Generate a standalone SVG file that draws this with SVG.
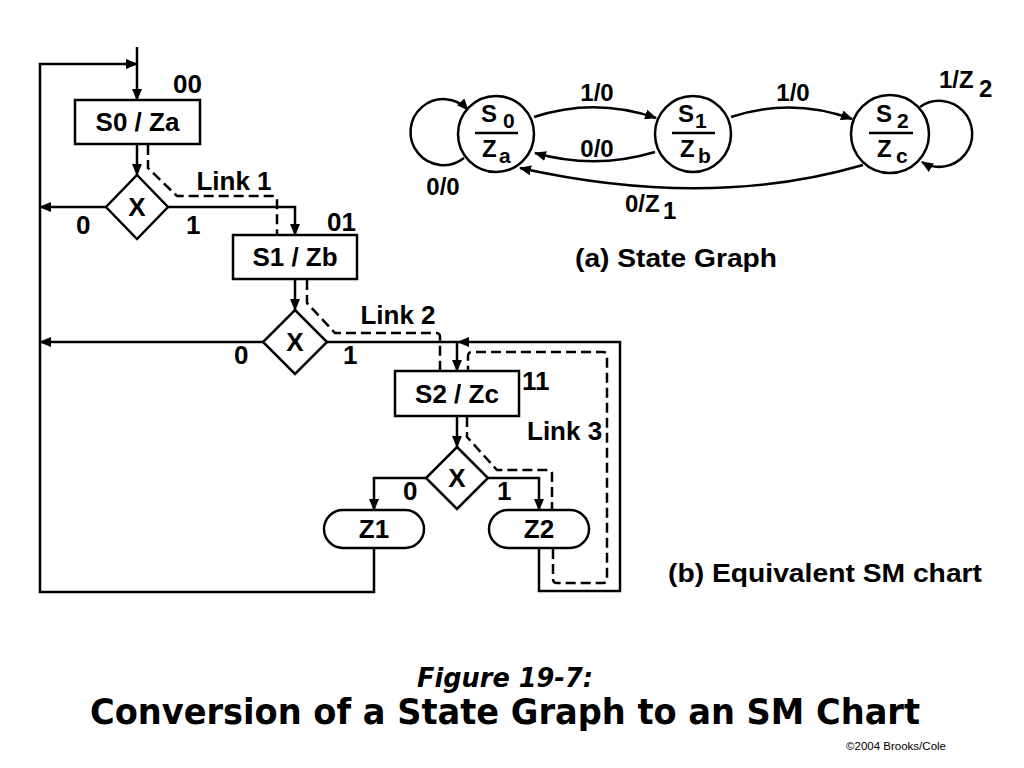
<svg xmlns="http://www.w3.org/2000/svg" width="1024" height="768" viewBox="0 0 1024 768">
<style>
.ln{fill:none;stroke:#000;stroke-width:2.5}
.ds{fill:none;stroke:#000;stroke-width:2.5;stroke-dasharray:10 5}
.bx{fill:#fff;stroke:#000;stroke-width:2.5}
.t{font-family:"Liberation Sans",Arial,sans-serif;font-weight:bold;font-size:26px;fill:#000}
.tc{text-anchor:middle}
.sg{font-family:"Liberation Sans",Arial,sans-serif;font-weight:bold;font-size:24px;fill:#000}
.st{font-family:"Liberation Sans",Arial,sans-serif;font-weight:bold;font-size:24px;fill:#000}
.ss{font-family:"Liberation Sans",Arial,sans-serif;font-weight:bold;font-size:21px;fill:#000}
</style>
<defs>
<marker id="ah" markerUnits="userSpaceOnUse" markerWidth="12" markerHeight="10" refX="11" refY="5" orient="auto">
<path d="M0,0 L12,5 L0,10 Z" fill="#000"/>
</marker>
</defs>
<rect width="1024" height="768" fill="#fff"/>

<g id="connectors">
<path class="ln" d="M137,47 V100" marker-end="url(#ah)"/>
<path class="ln" d="M374,548 V592 H40 V64 H137" marker-end="url(#ah)"/>
<path class="ln" d="M137,144 V175" marker-end="url(#ah)"/>
<path class="ln" d="M106,207 H40" marker-end="url(#ah)"/>
<path class="ln" d="M168,207 H295 V235" marker-end="url(#ah)"/>
<path class="ln" d="M295,279 V310" marker-end="url(#ah)"/>
<path class="ln" d="M263,342 H40" marker-end="url(#ah)"/>
<path class="ln" d="M327,342 H457 V371" marker-end="url(#ah)"/>
<path class="ln" d="M539,548 V591 H620 V342 H458" marker-end="url(#ah)"/>
<path class="ln" d="M457,416 V447" marker-end="url(#ah)"/>
<path class="ln" d="M426,478 H374 V510" marker-end="url(#ah)"/>
<path class="ln" d="M488,478 H539 V510" marker-end="url(#ah)"/>
<path class="ds" d="M148,145 V168 L177,196 H273 Q277,196 277,200 V235"/>
<path class="ds" d="M307,280 V303 L335,333 H436 Q440,333 440,337 V371"/>
<path class="ds" d="M467,417 V437 L497,470 H548 Q552,470 552,474 V510"/>
<path class="ds" d="M553,549 V579 Q553,583 557,583 H603 Q607,583 607,579 V356 Q607,352 603,352 H472 Q468,352 468,356 V371"/>
<path class="ln" d="M464,158 A33,33 0 1 1 468,110" marker-end="url(#ah)"/>
<path class="ln" d="M534,117 Q595,97 656,118" marker-end="url(#ah)"/>
<path class="ln" d="M655,152 Q595,170 535,153" marker-end="url(#ah)"/>
<path class="ln" d="M731,117 Q792,97 852,119" marker-end="url(#ah)"/>
<path class="ln" d="M863,165 Q709,210 520,168" marker-end="url(#ah)"/>
<path class="ln" d="M920,107 A33,33 0 1 1 922,162" marker-end="url(#ah)"/>
</g>

<g id="S0">
<rect class="bx" x="75" y="100" width="125" height="44"/>
<text class="t tc" x="137.5" y="131">S0 / Za</text>
<text class="t" x="173" y="93">00</text>
</g>
<g id="X1">
<path class="bx" d="M137,175 L168,207 L137,239 L106,207 Z"/>
<text class="t tc" x="137" y="216">X</text>
<text class="t" x="76" y="234">0</text>
<text class="t" x="186" y="234">1</text>
</g>
<g id="S1">
<rect class="bx" x="233" y="235" width="124" height="44"/>
<text class="t tc" x="295" y="266">S1 / Zb</text>
<text class="t" x="327" y="231">01</text>
<text class="t tc" x="234" y="190">Link 1</text>
</g>
<g id="X2">
<path class="bx" d="M295,310 L327,342 L295,374 L263,342 Z"/>
<text class="t tc" x="295" y="351">X</text>
<text class="t" x="234" y="364">0</text>
<text class="t" x="343" y="364">1</text>
</g>
<g id="S2">
<rect class="bx" x="395" y="371" width="124" height="45"/>
<text class="t tc" x="457" y="403">S2 / Zc</text>
<text class="t" x="522" y="390">11</text>
<text class="t tc" x="398" y="324">Link 2</text>
<text class="t" x="527" y="440">Link 3</text>
</g>
<g id="X3">
<path class="bx" d="M457,447 L488,478 L457,509 L426,478 Z"/>
<text class="t tc" x="457" y="487">X</text>
<text class="t" x="403" y="500">0</text>
<text class="t" x="497" y="500">1</text>
</g>
<g id="Z1">
<rect class="bx" x="324" y="510" width="100" height="38" rx="19" ry="19"/>
<text class="t tc" x="374" y="538">Z1</text>
</g>
<g id="Z2">
<rect class="bx" x="489" y="510" width="100" height="38" rx="19" ry="19"/>
<text class="t tc" x="539" y="538">Z2</text>
</g>

<g id="G_S0">
<circle class="bx" cx="496" cy="134" r="38"/>
<text class="st" x="481" y="122">S</text>
<text class="ss" x="503" y="128">0</text>
<line class="ln" x1="475" y1="133" x2="518" y2="133"/>
<text class="st" x="482" y="157">Z</text>
<text class="ss" x="499" y="163">a</text>
</g>
<g id="G_S1">
<circle class="bx" cx="693" cy="134" r="38"/>
<text class="st" x="678" y="122">S</text>
<text class="ss" x="695" y="128">1</text>
<line class="ln" x1="672" y1="133" x2="715" y2="133"/>
<text class="st" x="680" y="157">Z</text>
<text class="ss" x="698" y="163">b</text>
</g>
<g id="G_S2">
<circle class="bx" cx="890" cy="134" r="39"/>
<text class="st" x="876" y="122">S</text>
<text class="ss" x="897" y="128">2</text>
<line class="ln" x1="869" y1="133" x2="913" y2="133"/>
<text class="st" x="877" y="157">Z</text>
<text class="ss" x="896" y="163">c</text>
</g>
<g id="graph-labels">
<text class="sg tc" x="597" y="101">1/0</text>
<text class="sg tc" x="597" y="157">0/0</text>
<text class="sg tc" x="443" y="195">0/0</text>
<text class="sg tc" x="793" y="101">1/0</text>
<text class="sg" x="625" y="212">0/Z</text>
<text class="sg" x="663" y="219">1</text>
<text class="sg" x="939" y="88">1/Z</text>
<text class="sg" x="979" y="97">2</text>
</g>

<g id="captions">
<text class="t" x="575" y="267" font-size="27" textLength="202" lengthAdjust="spacingAndGlyphs">(a) State Graph</text>
<text class="t" x="668" y="582" font-size="27" textLength="314" lengthAdjust="spacingAndGlyphs">(b) Equivalent SM chart</text>
<text x="505" y="687" text-anchor="middle" font-family="'DejaVu Sans',Verdana,sans-serif" font-weight="bold" font-style="italic" font-size="26" textLength="176" lengthAdjust="spacingAndGlyphs">Figure 19-7:</text>
<text x="505" y="724" text-anchor="middle" font-family="'DejaVu Sans',Verdana,sans-serif" font-weight="bold" font-size="36" textLength="830" lengthAdjust="spacingAndGlyphs">Conversion of a State Graph to an SM Chart</text>
<text x="846" y="750" font-family="'Liberation Sans',Arial,sans-serif" font-size="11" textLength="100" lengthAdjust="spacingAndGlyphs">©2004 Brooks/Cole</text>
</g>
</svg>
